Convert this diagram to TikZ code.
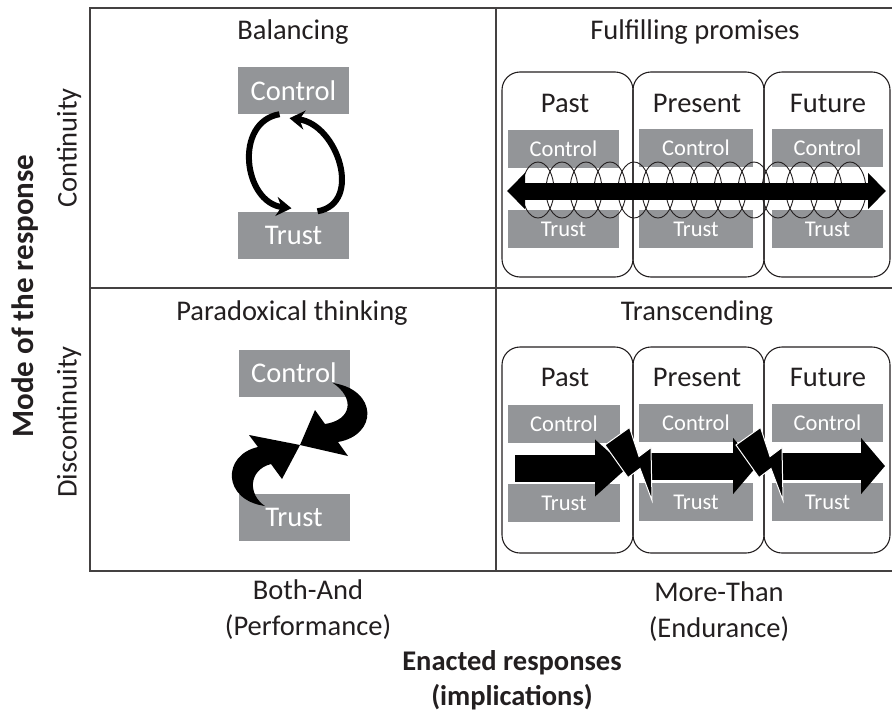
\documentclass[tikz,border=0pt]{standalone}
\usepackage{fontspec}
\setmainfont{Carlito}
\usepackage{xcolor}
\usepackage{tikz}
\usetikzlibrary{arrows.meta,positioning}
\definecolor{boxgray}{RGB}{147,149,152}
\definecolor{ink}{RGB}{35,31,32}
\tikzset{
  grid/.style={draw=ink!85,line width=1.3pt},
  lbl/.style={text=ink,font=\fontsize{28.5}{36}\selectfont,inner sep=0pt},
  blbl/.style={text=ink,font=\fontsize{31}{35}\selectfont\bfseries,inner sep=0pt},
  gbox/.style={fill=boxgray,text=white,minimum width=111pt,minimum height=47pt,font=\fontsize{28.5}{32}\selectfont,inner sep=0pt},
  sbox/.style={fill=boxgray,text=white,minimum width=111pt,minimum height=38pt,font=\fontsize{22.5}{25}\selectfont,inner sep=0pt},
  period/.style={draw=ink,line width=1.1pt,rounded corners=18pt,minimum width=131pt,inner sep=0pt},
  cyc/.style={line width=6pt,-{Stealth[length=15pt,width=19pt]}},
  coil/.style={draw=ink,line width=0.9pt},
  dbl/.style={line width=17pt,{Triangle[length=18pt,width=35pt]}-{Triangle[length=18pt,width=35pt]}},
  fwd/.style={line width=27pt,-{Triangle[length=24pt,width=55pt]}},
  bolt/.style={fill=black,draw=white,line width=1pt,line join=miter},
}

\begin{document}
\begin{tikzpicture}[x=1pt,y=-1pt]
\useasboundingbox (0,0) rectangle (892,715);
% 2x2 grid
\draw[grid] (892,8) -- (90,8) -- (90,571) -- (892,571);
\draw[grid] (496,8) -- (496,571);
\draw[grid] (90,288) -- (892,288);

% axes
\node[lbl,rotate=90] (cont) at (69,148) {Continuity};
\node[lbl,rotate=90] (disc) at (69,422) {Discontinuity};
\node[blbl,rotate=90] (mode) at (25,296) {Mode of the response};
\node[lbl,align=center] (both) at (308,610) {Both-And\\(Performance)};
\node[lbl,align=center] (more) at (719,612) {More-Than\\(Endurance)};
\node[blbl,font=\fontsize{28.5}{35}\selectfont\bfseries,align=center] (enact) at (512,680) {Enacted responses\\(implications)};

% quadrant titles
\node[lbl] (bal) at (293,32) {Balancing};
\node[lbl] (ful) at (695,32) {Fulfilling promises};
\node[lbl] (para) at (292,313) {Paradoxical thinking};
\node[lbl] (trans) at (697,313) {Transcending};

% balancing
\node[gbox] (ctrlA) at (293.5,90.5) {Control};
\node[gbox] (trustA) at (293.5,235) {Trust};
\draw[cyc] ([xshift=-14pt]ctrlA.south) .. controls +(-46,8) and +(-48,-6) .. ([shift={(-2,-3)}]trustA.north);
\draw[cyc] ([xshift=24pt]trustA.north) .. controls +(46,-8) and +(48,6) .. ([shift={(-4,4)}]ctrlA.south);

% paradoxical thinking
\node[gbox] (ctrlB) at (294,373) {Control};
\node[gbox] (trustB) at (294,517.5) {Trust};
\coordinate (meet) at (300,445);
\fill (333,383) .. controls (378,390) and (378,435) .. (338,442) -- (348,456) -- (meet) -- (315,410) -- (325,424) .. controls (352,420) and (355,398) .. (333,383) -- cycle;
\fill (265,506) .. controls (222,500) and (222,455) .. (258,447) -- (249,435) -- (meet) -- (282,479) -- (271,464) .. controls (248,470) and (248,495) .. (265,506) -- cycle;

% fulfilling promises
\node[period,minimum height=205pt] (pastA) at (567.5,174.5) {};
\node[period,minimum height=205pt] (presA) at (698.5,174.5) {};
\node[period,minimum height=205pt,minimum width=126pt] (futA) at (827,174.5) {};
\node[lbl] at (565,103) {Past};
\node[lbl] at (697,103) {Present};
\node[lbl] at (828,103) {Future};
\node[sbox] (pcA) at (563.5,149) {Control};
\node[sbox,below=42pt of pcA] (ptA) {Trust};
\node[sbox,minimum width=114pt] (ncA) at (696,147.5) {Control};
\node[sbox,minimum width=114pt,below=43pt of ncA] (ntA) {Trust};
\node[sbox] (fcA) at (827.5,147.5) {Control};
\node[sbox,below=43pt of fcA] (ftA) {Trust};
\foreach \k in {0,...,13}
  \draw[coil] (538+24*\k,190) ellipse [x radius=16pt,y radius=28pt];
\coordinate (dl) at (507,191);
\coordinate (dr) at (886,191);
\draw[dbl] (dl) -- (dr);

% transcending
\node[period,minimum height=206pt] (pastB) at (567.5,450) {};
\node[period,minimum height=206pt] (presB) at (698.5,450) {};
\node[period,minimum height=206pt,minimum width=126pt] (futB) at (827,450) {};
\node[lbl] at (565,377) {Past};
\node[lbl] at (697,377) {Present};
\node[lbl] at (828,377) {Future};
\node[sbox,minimum width=112pt] (pcB) at (564,423.5) {Control};
\node[sbox,minimum width=112pt,below=41pt of pcB] (ptB) {Trust};
\node[sbox,minimum width=114pt] (ncB) at (696,422.5) {Control};
\node[sbox,minimum width=114pt,below=41pt of ncB] (ntB) {Trust};
\node[sbox] (fcB) at (827.5,422.5) {Control};
\node[sbox,below=41pt of fcB] (ftB) {Trust};
\draw[fwd,-{Triangle[length=32pt,width=55pt]}] (515,468) -- (627,468);
\draw[fwd] (648,466) -- (757,466);
\draw[fwd] (778,466) -- (885,466);
\foreach \dx in {0,131}
  \filldraw[bolt,xshift=\dx pt] (605,445) -- (629.5,427.5) -- (639,456.5) -- (651,447.5) -- (652,500.5) -- (640,468.5) -- (628,477.5) -- cycle;
\end{tikzpicture}
\end{document}
